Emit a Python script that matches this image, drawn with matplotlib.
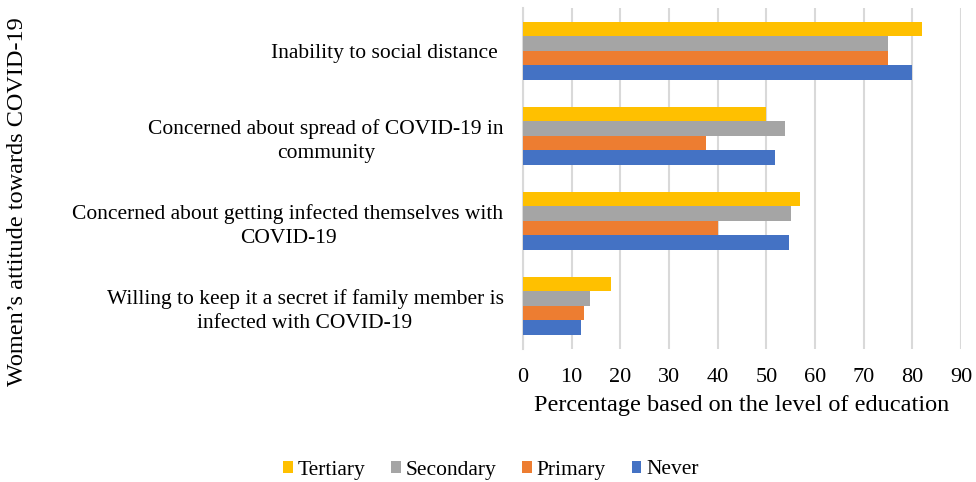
import numpy as np
import matplotlib.pyplot as plt

plt.rcParams['font.family'] = ['Liberation Serif', 'DejaVu Serif']

categories = [
    'Inability to social distance ',
    'Concerned about spread of COVID-19 in\ncommunity',
    'Concerned about getting infected themselves with\nCOVID-19',
    'Willing to keep it a secret if family member is\ninfected with COVID-19',
]
series = ['Tertiary', 'Secondary', 'Primary', 'Never']
tertiary = [82, 50, 57, 18]
secondary = [75, 53.8, 55, 13.8]
primary = [75, 37.5, 40, 12.5]
never = [80, 51.8, 54.7, 11.9]
colors = ['#FFC000', '#A5A5A5', '#ED7D31', '#4472C4']

fig = plt.figure(figsize=(9.76, 4.82), dpi=100)
ax = fig.add_axes([523 / 976, 1 - 348.5 / 482, (961 - 523) / 976, (348.5 - 8) / 482])

n = len(categories)
pos = np.arange(n)[::-1].astype(float)  # first category at top
h = 0.17
offsets = [1.5 * h, 0.5 * h, -0.5 * h, -1.5 * h]
for vals, name, c, off in zip([tertiary, secondary, primary, never], series, colors, offsets):
    ax.barh(pos + off, vals, height=h, color=c, label=name, zorder=3)

ax.set_ylim(-0.5, n - 0.5)
ax.set_xlim(0, 90)
ax.set_xticks(range(0, 91, 10))
ax.set_yticks(pos)
ax.set_yticklabels(categories, multialignment='center', fontsize=15.5, linespacing=1.36)
ax.tick_params(axis='x', labelsize=16, length=0, pad=14)
ax.tick_params(axis='y', length=0, pad=14)
ax.grid(axis='x', color='#D9D9D9', linewidth=1.5, zorder=0)
for s in ['top', 'right', 'bottom']:
    ax.spines[s].set_visible(False)
ax.spines['left'].set_color('#D9D9D9')
ax.spines['left'].set_linewidth(1.5)

ax.set_xlabel('Percentage based on the level of education', fontsize=17.5, labelpad=6)
fig.text(18 / 976, 1 - 202 / 482, 'Women\u2019s attitude towards COVID-19',
         rotation=90, ha='center', va='center', fontsize=17.5)

handles, labels = ax.get_legend_handles_labels()
fig.legend(handles, labels, loc='center', bbox_to_anchor=(491 / 976, 1 - 470 / 482),
           ncol=4, frameon=False, fontsize=15.5, handlelength=0.45, handleheight=0.45,
           handletextpad=0.22, columnspacing=1.2)

fig.savefig('out.png', dpi=100)
